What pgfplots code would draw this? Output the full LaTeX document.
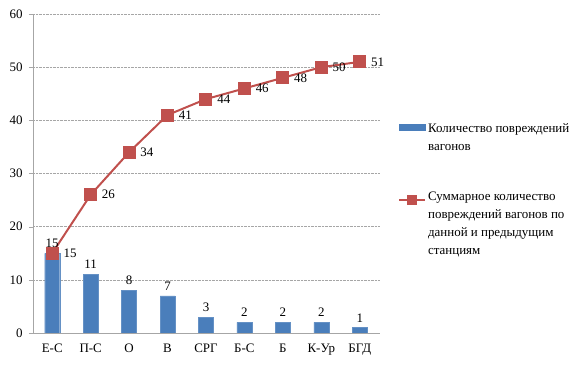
\documentclass[border=0pt]{standalone}
\usepackage{fontspec}
\setmainfont{Liberation Serif}
\usepackage{pgfplots}
\pgfplotsset{compat=1.18}
\definecolor{barblue}{RGB}{74,126,187}
\definecolor{linered}{RGB}{192,80,77}
\begin{document}
\begin{tikzpicture}[font=\fontsize{13}{18}\selectfont]
\begin{axis}[
  scale only axis, width=346bp, height=319bp,
  xmin=-0.5, xmax=8.5, ymin=0, ymax=60,
  ytick={0,10,...,60},
  xtick={0,...,8},
  xticklabels={Е-С,П-С,О,В,СРГ,Б-С,Б,К-Ур,БГД},
  extra x ticks={-0.5,0.5,...,8.5},
  extra x tick labels={},
  extra x tick style={grid=none, major tick length=4bp, tick style={gray!70}},
  x tick style={draw=none},
  y tick style={gray!70},
  tick align=outside, major tick length=4bp,
  xticklabel style={yshift=-3bp},
  yticklabel style={xshift=-3bp},
  axis lines*=left,
  axis line style={gray!70},
  ymajorgrids, grid style={densely dotted, gray!70},
  /pgf/number format/assume math mode=true,
  legend style={at={(1.046,0.668)}, anchor=north west, draw=none, fill=none,
    row sep=26bp},
  legend cell align=left,
]
\addplot[ybar, bar width=15bp, fill=barblue, draw=barblue!85!white,
  nodes near coords, every node near coord/.append style={black, yshift=2bp},
  legend image code/.code={\fill[barblue] (0bp,-1bp) rectangle (26bp,5bp);}]
  coordinates {(0,15) (1,11) (2,8) (3,7) (4,3) (5,2) (6,2) (7,2) (8,1)};
\addlegendentry{\parbox[t]{160bp}{Количество повреждений\\вагонов}}
\addplot[linered, line width=2bp, mark=square*, mark size=5.5bp,
  mark options={fill=linered, solid},
  nodes near coords, nodes near coords align={horizontal},
  every node near coord/.append style={black, xshift=7bp},
  legend image code/.code={\draw[linered, line width=2bp] (0bp,-35bp) -- (26bp,-35bp); \fill[linered] (9bp,-39bp) rectangle (17bp,-31bp);}]
  coordinates {(0,15) (1,26) (2,34) (3,41) (4,44) (5,46) (6,48) (7,50) (8,51)};
\addlegendentry{\raisebox{-36bp}{\parbox[t]{160bp}{Суммарное количество\\повреждений вагонов по\\данной и предыдущим\\станциям}}}
\end{axis}
\pgfresetboundingbox
\path (current axis.south west) ++(-33bp,-32bp) rectangle ++(587bp,365bp);
\end{tikzpicture}
\end{document}
